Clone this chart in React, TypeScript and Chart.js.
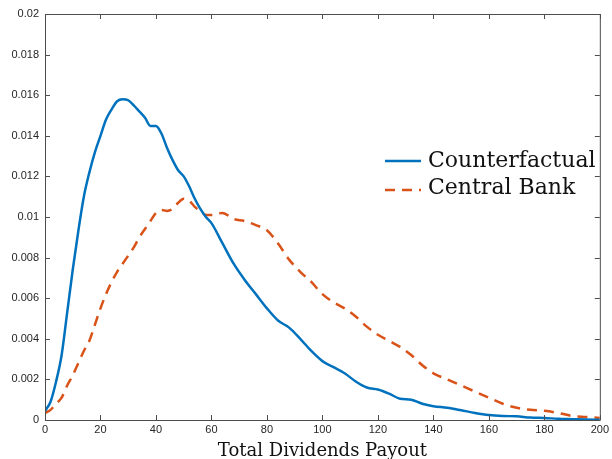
import React, { useEffect, useRef } from "react";
import { Chart, registerables } from "chart.js";

Chart.register(...registerables);

const xValues = [0, 2, 4, 6, 8, 10, 12, 14, 16, 18, 20, 22, 24, 26, 28, 30, 32, 34, 36, 38, 40, 42, 44, 46, 48, 50, 52, 54, 56, 58, 60, 64, 68, 72, 76, 80, 84, 88, 92, 96, 100, 104, 108, 112, 116, 120, 124, 128, 132, 136, 140, 145, 150, 155, 160, 165, 170, 175, 180, 185, 190, 195, 200];

const counterfactual = [0.00045, 0.0009, 0.0019, 0.0032, 0.0053, 0.0074, 0.0093, 0.011, 0.0122, 0.0132, 0.014, 0.0148, 0.0153, 0.0157, 0.0158, 0.01575, 0.0155, 0.0152, 0.0149, 0.01448, 0.01448, 0.0141, 0.0134, 0.0128, 0.0123, 0.012, 0.0115, 0.0109, 0.0104, 0.01, 0.0097, 0.0087, 0.0077, 0.0069, 0.0062, 0.0055, 0.0049, 0.00455, 0.004, 0.0034, 0.0029, 0.0026, 0.0023, 0.0019, 0.0016, 0.0015, 0.0013, 0.00105, 0.001, 0.0008, 0.00068, 0.0006, 0.00048, 0.00035, 0.00025, 0.0002, 0.00018, 0.00012, 0.0001, 0.00006, 0.00004, 0.00002, 0.00001];

const centralBank = [0.00035, 0.0005, 0.0008, 0.0011, 0.0017, 0.0022, 0.0028, 0.0034, 0.0039, 0.0047, 0.0055, 0.0062, 0.0068, 0.0073, 0.0077, 0.0081, 0.0085, 0.009, 0.0094, 0.0098, 0.0102, 0.01035, 0.0103, 0.0104, 0.0107, 0.0109, 0.0108, 0.0105, 0.0103, 0.0101, 0.0101, 0.0102, 0.0099, 0.0098, 0.0096, 0.00935, 0.0087, 0.0079, 0.0073, 0.0068, 0.0062, 0.0058, 0.0055, 0.0051, 0.0046, 0.0042, 0.0039, 0.0036, 0.0032, 0.0027, 0.0023, 0.002, 0.0017, 0.0014, 0.0011, 0.0008, 0.0006, 0.0005, 0.00045, 0.00035, 0.0002, 0.00015, 0.0001];

const seriesNames = ["Counterfactual", "Central Bank"];
const xTitle = "Total Dividends Payout";

const BLUE = "#0072BD";
const RED = "#D95319";
const AXIS = "#4d4d4d";
const SERIF = '"DejaVu Serif", serif';

const boxPlugin = {
  id: "boxPlugin",
  afterDraw(chart: any) {
    const { ctx, chartArea, scales } = chart;
    const { left, right, top, bottom } = chartArea;
    const xs = scales.x;
    const ys = scales.y;
    ctx.save();
    ctx.strokeStyle = AXIS;
    ctx.lineWidth = 1;
    ctx.beginPath();
    ctx.rect(left + 0.5, top + 0.5, right - left, bottom - top);
    ctx.stroke();
    const tl = 5;
    ctx.beginPath();
    xs.ticks.forEach((t: any) => {
      const px = Math.round(xs.getPixelForValue(t.value)) + 0.5;
      ctx.moveTo(px, bottom);
      ctx.lineTo(px, bottom - tl);
      ctx.moveTo(px, top);
      ctx.lineTo(px, top + tl);
    });
    ys.ticks.forEach((t: any) => {
      const py = Math.round(ys.getPixelForValue(t.value)) + 0.5;
      ctx.moveTo(left, py);
      ctx.lineTo(left + tl, py);
      ctx.moveTo(right, py);
      ctx.lineTo(right - tl, py);
    });
    ctx.stroke();

    // legend
    const lx = 385;
    const lineY = [161, 190];
    const textY = [167, 194];
    ctx.font = "22px " + SERIF;
    ctx.textBaseline = "alphabetic";
    ctx.fillStyle = "#111";
    chart.data.datasets.forEach((ds: any, i: number) => {
      ctx.strokeStyle = ds.borderColor;
      ctx.lineWidth = ds.borderWidth;
      ctx.setLineDash(ds.borderDash || []);
      ctx.beginPath();
      ctx.moveTo(lx, lineY[i]);
      ctx.lineTo(lx + 36, lineY[i]);
      ctx.stroke();
      ctx.setLineDash([]);
      ctx.fillText(ds.label, lx + 43, textY[i]);
    });
    ctx.restore();
  },
};

export default function App() {
  const ref = useRef<HTMLCanvasElement>(null);
  useEffect(() => {
    document.body.style.margin = "0";
    const c = ref.current!;
    const chart = new Chart(c, {
      type: "line",
      data: {
        datasets: [
          {
            label: seriesNames[0],
            data: xValues.map((x, i) => ({ x, y: counterfactual[i] })),
            borderColor: BLUE,
            borderWidth: 2.5,
            pointRadius: 0,
            tension: 0.3,
            cubicInterpolationMode: "monotone",
          },
          {
            label: seriesNames[1],
            data: xValues.map((x, i) => ({ x, y: centralBank[i] })),
            borderColor: RED,
            borderWidth: 2.5,
            borderDash: [10, 7],
            pointRadius: 0,
            tension: 0.3,
            cubicInterpolationMode: "monotone",
          },
        ],
      },
      options: {
        responsive: false,
        animation: false,
        layout: { padding: { left: 0, right: 11, top: 14, bottom: 0 } },
        plugins: { legend: { display: false }, tooltip: { enabled: false } },
        scales: {
          x: {
            type: "linear",
            min: 0,
            max: 200,
            ticks: {
              stepSize: 20,
              color: "#262626",
              font: { family: "Liberation Sans, Arial, sans-serif", size: 11 },
              padding: 3,
              maxRotation: 0,
            },
            grid: { display: false, drawTicks: false },
            border: { display: false },
            title: {
              display: true,
              text: xTitle,
              color: "#111",
              font: { family: SERIF, size: 18, lineHeight: 0.9 },
              padding: { top: 1, bottom: 0 },
            },
            afterFit: (s: any) => {
              s.height = 39;
            },
          },
          y: {
            min: 0,
            max: 0.02,
            ticks: {
              stepSize: 0.002,
              color: "#262626",
              font: { family: "Liberation Sans, Arial, sans-serif", size: 11 },
              padding: 6,
              callback: (v: any) => String(Number(Number(v).toFixed(4))),
            },
            grid: { display: false, drawTicks: false },
            border: { display: false },
            afterFit: (s: any) => {
              s.width = 45;
            },
          },
        },
      },
      plugins: [boxPlugin],
    });
    return () => chart.destroy();
  }, []);
  return <canvas ref={ref} width={612} height={459} style={{ display: "block" }} />;
}
